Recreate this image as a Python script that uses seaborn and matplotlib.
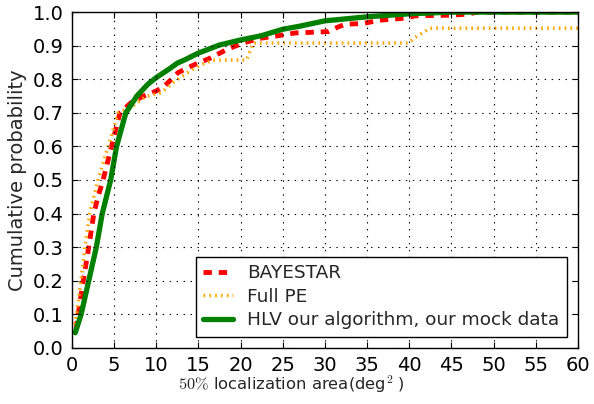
import matplotlib
matplotlib.use("Agg")
import matplotlib.pyplot as plt
import seaborn as sns
import pandas as pd

# Data
bayestar_x = [0.5, 0.75, 1.35, 2.0, 2.6, 3.1, 3.7, 4.7, 5.7, 7.0, 8.5, 10, 11, 12.6, 14.4,
              16.4, 18.4, 20.3, 22.3, 24.3, 26.5, 28.6, 30.4, 31.5, 32.4, 34.5, 36.5,
              38.5, 39.5, 40.7, 45, 47, 48, 60]
bayestar_p = [0.055, 0.1, 0.2, 0.3, 0.4, 0.45, 0.5, 0.6, 0.7, 0.73, 0.75, 0.765, 0.78,
              0.82, 0.842, 0.863, 0.889, 0.908, 0.922, 0.929, 0.938, 0.94, 0.942, 0.955,
              0.964, 0.966, 0.976, 0.98, 0.982, 0.989, 0.991, 0.994, 1.0, 1.0]

fullpe_x = [0.3, 0.55, 1.07, 1.55, 2.1, 3.1, 4.3, 5.5, 7.1, 8.7, 10.6, 12, 13.6, 15.2,
            16.7, 20.7, 21.5, 39.9, 41, 42.5, 60]
fullpe_p = [0.07, 0.1, 0.2, 0.3, 0.4, 0.5, 0.6, 0.7, 0.718, 0.748, 0.76, 0.79, 0.818,
            0.842, 0.857, 0.857, 0.908, 0.908, 0.93, 0.952, 0.952]

hlv_x = [0.4, 1.1, 2.0, 2.9, 3.6, 4.6, 5.3, 6.4, 7.7, 9.0, 10.0, 11.5, 12.5, 13.4, 15.0,
         17.5, 20, 22.5, 25, 27, 30, 35, 40, 45, 50, 55, 60]
hlv_p = [0.045, 0.1, 0.2, 0.3, 0.4, 0.5, 0.6, 0.7, 0.75, 0.785, 0.805, 0.83, 0.848, 0.858,
         0.878, 0.902, 0.917, 0.93, 0.949, 0.958, 0.974, 0.986, 0.995, 1.0, 1.0, 1.0, 1.0]

labels = ["BAYESTAR", "Full PE", "HLV our algorithm, our mock data"]

x_ticks = list(range(0, 61, 5))
y_ticks = [i / 10 for i in range(0, 11)]

sns.set_style("ticks")
plt.rcParams.update({
    "font.family": ["DejaVu Sans"],
    "mathtext.fontset": "cm",
    "xtick.direction": "in",
    "ytick.direction": "in",
    "xtick.top": True,
    "ytick.right": True,
    "xtick.major.size": 4,
    "ytick.major.size": 4,
    "xtick.color": "black",
    "ytick.color": "black",
    "axes.edgecolor": "black",
    "axes.linewidth": 1.0,
    "lines.scale_dashes": False,
})

fig = plt.figure(figsize=(5.94, 4.04), dpi=100)
ax = fig.add_axes([0.121, 0.139, 0.852, 0.831])

df_b = pd.DataFrame({"x": bayestar_x, "p": bayestar_p})
df_f = pd.DataFrame({"x": fullpe_x, "p": fullpe_p})
df_h = pd.DataFrame({"x": hlv_x, "p": hlv_p})

sns.lineplot(data=df_b, x="x", y="p", ax=ax, color="red", lw=3.5,
             linestyle=(0, (6, 5)), label=labels[0], estimator=None, sort=False)
sns.lineplot(data=df_f, x="x", y="p", ax=ax, color="orange", lw=2.5,
             linestyle=(0, (1.2, 3)), label=labels[1], estimator=None, sort=False)
sns.lineplot(data=df_h, x="x", y="p", ax=ax, color="green", lw=3.8,
             linestyle="-", label=labels[2], estimator=None, sort=False)

ax.set_xlim(0, 60)
ax.set_ylim(0, 1.0)
ax.set_xticks(x_ticks)
ax.set_yticks(y_ticks)
ax.set_xticklabels([str(t) for t in x_ticks], fontsize=14)
ax.set_yticklabels([f"{t:.1f}" for t in y_ticks], fontsize=14)
ax.tick_params(pad=6)
ax.grid(True, color="black", linestyle=(0, (1, 4)), linewidth=0.8)
ax.set_axisbelow(False)
for s in ax.spines.values():
    s.set_visible(True)
    s.set_color("black")

ax.set_xlabel(r"$50\%$ localization area(deg$^2$ )", fontsize=11.8, labelpad=-1)
ax.xaxis.label.set_x(0.433)
ax.set_ylabel("Cumulative probability", fontsize=14, labelpad=4)

leg = ax.legend(loc="lower right", fontsize=13.3, frameon=True, fancybox=False,
                edgecolor="black", framealpha=1.0, handlelength=1.6,
                borderaxespad=0.6, labelspacing=0.3)
leg.get_frame().set_linewidth(1.0)

fig.savefig("out.png", dpi=100)
